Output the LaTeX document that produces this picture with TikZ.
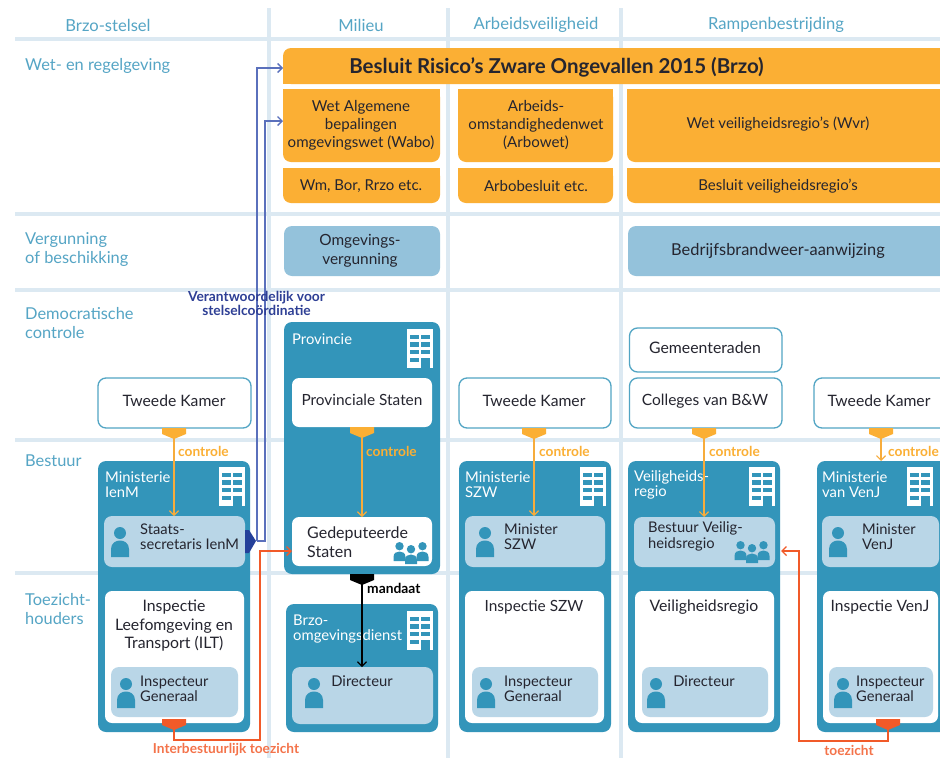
\documentclass[tikz,border=0pt]{standalone}
\usepackage{fontspec}
\setmainfont{Lato}
\usetikzlibrary{arrows.meta}
\definecolor{gridc}{HTML}{DCE9F2}
\definecolor{hdrc}{HTML}{55A5C5}
\definecolor{orc}{HTML}{FBAF34}
\definecolor{orl}{HTML}{F7AC3C}
\definecolor{tealc}{HTML}{3395BA}
\definecolor{lightc}{HTML}{B9D6E7}
\definecolor{permc}{HTML}{94C2DB}
\definecolor{txtc}{HTML}{25252F}
\definecolor{bluet}{HTML}{24409A}
\definecolor{bluel}{HTML}{5A70BC}
\definecolor{bluetxt}{HTML}{2E3F95}
\definecolor{redc}{HTML}{F15A29}
\definecolor{redt}{HTML}{F4734A}
\newcommand\sz[2]{\fontsize{#1}{#2}\selectfont}
% box by corners: style, name, x1, y1, x2, y2
\newcommand\bx[6]{\pgfmathsetmacro\bw{#5-#3}\pgfmathsetmacro\bh{#6-#4}%
  \node[#1,anchor=north west,inner sep=0pt,outer sep=0pt,minimum width=\bw pt,minimum height=\bh pt] (#2) at (#3,#4) {};}
\newcommand\building[2]{\begin{scope}[shift={(#1,#2)}]
  \fill[white] (0,0) rectangle (26,39);
  \foreach \yy/\yz in {5.7/10,13/17.7,21/25.3}{
    \fill[tealc] (3.3,\yy) rectangle (12,\yz);
    \fill[tealc] (14.3,\yy) rectangle (23,\yz);}
  \fill[tealc] (3.3,28.7) rectangle (12,33);
  \fill[tealc] (14.3,28.7) rectangle (23,39);
\end{scope}}
\newcommand\person[2]{\begin{scope}[shift={(#1,#2)}]
  \fill[tealc] (0,6) circle[radius=6];
  \fill[tealc] (-9,30) -- (-9,22) .. controls (-9,16) and (-4,13.5) .. (0,13.5) .. controls (4,13.5) and (9,16) .. (9,22) -- (9,30) -- cycle;
\end{scope}}
\newcommand\smallp[2]{\begin{scope}[shift={(#1,#2)}]
  \fill[tealc] (0,4.2) circle[radius=4.2];
  \fill[tealc] (-6,19) -- (-6,15) .. controls (-6,11) and (-3,9.5) .. (0,9.5) .. controls (3,9.5) and (6,11) .. (6,15) -- (6,19) -- cycle;
\end{scope}}
\newcommand\grp[2]{\smallp{#1-11.5}{#2}\smallp{#1+11.5}{#2}\smallp{#1}{#2+3}}
\newcommand\tabm[4]{\fill[#3] (#1-12,#2) -- (#1+12,#2) -- (#1+12,#2+6) -- (#1,#2+11) -- (#1-12,#2+6) -- cycle;
  \coordinate (#4) at (#1,#2+10);}
\tikzset{
  gridl/.style={gridc,line width=4pt},
  hdr/.style={hdrc,font=\sz{16.6}{17},inner sep=0pt},
  rowl/.style={hdrc,font=\sz{16.4}{19.5},inner sep=0pt,anchor=west,align=left},
  orbox/.style={fill=orc,rounded corners=8pt},
  permit/.style={fill=permc,rounded corners=8pt},
  outl/.style={draw=tealc!85!white,line width=1.3pt,fill=white,rounded corners=8pt},
  cont/.style={fill=tealc,rounded corners=8pt},
  wbox/.style={fill=white,rounded corners=7pt},
  lbox/.style={fill=lightc,rounded corners=8pt},
  ct/.style={txtc,font=\sz{15.4}{18.5},inner sep=0pt,align=center},
  ls/.style={txtc,font=\sz{14.7}{15.2},inner sep=0pt,align=left,anchor=west},
  wl/.style={white,font=\sz{14.8}{15.2},inner sep=0pt,align=left,anchor=west},
  ctl/.style={orl,line width=1.2pt,-{Straight Barb[length=4.5pt,width=9pt]}},
  ctlt/.style={orc,font=\bfseries\sz{13.7}{14},inner sep=0pt,anchor=west},
  bl/.style={bluel,line width=1.4pt,-{Straight Barb[length=4.5pt,width=9pt]}},
  rl/.style={redc,line width=1.4pt,-{Straight Barb[length=4.5pt,width=9pt]}},
  rt/.style={redt,font=\bfseries\sz{13.7}{14},inner sep=0pt},
}
\begin{document}
\begin{tikzpicture}[x=1pt,y=-1pt]
\useasboundingbox (0,0) rectangle (940,758);
\clip (0,0) rectangle (940,758);
\fill[white] (0,0) rectangle (940,758);
% grid
\foreach \yy in {39,214,290,440,573} \draw[gridl] (15,\yy) -- (940,\yy);
\foreach \xx/\yt in {269/8,448/8,621/8} \draw[gridl] (\xx,\yt) -- (\xx,758);
% headers
\node[hdr] (h1) at (108,25) {Brzo-stelsel};
\node[hdr] (h2) at (361,25) {Milieu};
\node[hdr] (h3) at (536,25) {Arbeidsveiligheid};
\node[hdr] (h4) at (776,25) {Rampenbestrijding};
\node[rowl] (r1) at (25,65.5) {Wet- en regelgeving};
\node[rowl] (r2) at (25,249.5) {Vergunning\\of beschikking};
\node[rowl] (r3) at (25,323) {Democratische\\controle};
\node[rowl] (r4) at (25,461) {Bestuur};
\node[rowl] (r5) at (25,609) {Toezicht-\\houders};
% orange boxes
\bx{orbox}{brzo}{283}{48}{960}{84}
\fill[orc] (283,66) rectangle (300,84);
\node[txtc,font=\bfseries\sz{20.5}{21},inner sep=0pt] (brzot) at (556.5,67) {Besluit Risico’s Zware Ongevallen 2015 (Brzo)};
\bx{orbox}{wabo}{283}{89}{440}{162}
\fill[orc] (283,89) rectangle (440,110);
\bx{orbox}{wm}{283}{168}{440}{203}
\fill[orc] (283,168) rectangle (440,185);
\bx{orbox}{arbo}{458}{89}{613}{162}
\fill[orc] (458,89) rectangle (613,110);
\bx{orbox}{arbob}{458}{168}{613}{203}
\fill[orc] (458,168) rectangle (613,185);
\bx{orbox}{wvr}{627}{89}{960}{162}
\fill[orc] (627,89) rectangle (940,110);
\bx{orbox}{bvr}{627}{168}{960}{203}
\fill[orc] (627,168) rectangle (940,185);
\node[ct,font=\sz{15.1}{18}] (waboT) at (361,125) {Wet Algemene\\bepalingen\\omgevingswet (Wabo)};
\node[ct,font=\sz{15}{18}] (wmT) at (361,186.5) {Wm, Bor, Rrzo etc.};
\node[ct,font=\sz{15.1}{18}] (arboT) at (536,125) {Arbeids-\\omstandighedenwet\\(Arbowet)};
\node[ct,font=\sz{15}{18}] (arbobT) at (536,186.5) {Arbobesluit etc.};
\node[ct,font=\sz{15}{18}] (wvrT) at (778,124.5) {Wet veiligheidsregio’s (Wvr)};
\node[ct,font=\sz{15}{18}] (bvrT) at (778,186.5) {Besluit veiligheidsregio’s};
% permits
\bx{permit}{omg}{284}{226}{440}{276}
\bx{permit}{bbw}{628}{226}{960}{276}
\node[ct] (omgT) at (360,251) {Omgevings-\\vergunning};
\node[ct,font=\sz{16.4}{18}] (bbwT) at (778,251) {Bedrijfsbrandweer-aanwijzing};
% outlined
\bx{outl}{tk1}{98}{378}{251}{428}
\bx{outl}{tk2}{459}{378}{611}{428}
\bx{outl}{gem}{629.5}{328}{782}{372}
\bx{outl}{col}{629.5}{378}{782}{428}
\bx{outl}{tk3}{814}{378}{960}{428}
\node[ct,font=\sz{15.7}{18}] (tk1T) at (174,401) {Tweede Kamer};
\node[ct,font=\sz{15.7}{18}] (tk2T) at (534,401) {Tweede Kamer};
\node[ct,font=\sz{15.8}{18}] (gemT) at (705,348) {Gemeenteraden};
\node[ct,font=\sz{15.5}{18}] (colT) at (705,401) {Colleges van B\&W};
\node[ct,font=\sz{15.7}{18}] (tk3T) at (879,401) {Tweede Kamer};
% containers
\bx{cont}{ienm}{98}{461}{250}{732}
\bx{cont}{prov}{284}{322}{440}{574}
\bx{cont}{odienst}{286}{604}{438}{732}
\bx{cont}{szw}{459}{461}{611}{732}
\bx{cont}{veil}{628}{461}{780}{732}
\bx{cont}{venj}{817}{461}{980}{732}
\node[wl] (ienmT) at (105,484.5) {Ministerie\\IenM};
\node[wl] (provT) at (292,339) {Provincie};
\node[wl] (odT) at (293,629) {Brzo-\\omgevingsdienst};
\node[wl] (szwT) at (465,484.5) {Ministerie\\SZW};
\node[wl] (veilT) at (634,484.5) {Veiligheids-\\regio};
\node[wl] (venjT) at (822,484.5) {Ministerie\\van VenJ};
\building{219}{467}\building{407}{329}\building{407}{611}\building{580}{467}\building{749}{467}\building{907}{467}
% inner boxes
\bx{lbox}{staats}{104}{516}{245}{567}
\bx{wbox}{ilt}{105}{591}{244}{723}
\bx{lbox}{ig1}{111}{667}{238}{717}
\bx{wbox}{ps}{292}{378}{432}{427}
\bx{wbox}{gede}{292}{517}{432}{566}
\bx{lbox}{dir1}{292}{667}{433}{724}
\bx{lbox}{minszw}{465}{516}{605}{567}
\bx{wbox}{iszw}{465}{591}{604}{723}
\bx{lbox}{ig2}{472}{667}{598}{717}
\bx{lbox}{bestuur}{634}{517}{775}{567}
\bx{wbox}{vr}{635}{591}{774}{723}
\bx{lbox}{dir2}{642}{667}{768}{717}
\bx{lbox}{minvenj}{822}{516}{939}{567}
\bx{wbox}{ivenj}{823}{591}{938}{723}
\bx{lbox}{ig3}{829}{667}{933}{717}
% icons
\person{120}{527}\person{126}{678}\person{314}{678}\person{485}{527}\person{486}{678}
\person{656}{678}\person{838}{527}\person{843}{678}
\grp{411}{542}\grp{752}{541}
% inner text
\node[ls] (staatsT) at (140,536.5) {Staats-\\secretaris IenM};
\node[ct,font=\sz{15.8}{18.5}] (iltT) at (174,626) {Inspectie\\Leefomgeving en\\Transport (ILT)};
\node[ls] (ig1T) at (140,688.5) {Inspecteur\\Generaal};
\node[ct] (psT) at (362,400) {Provinciale Staten};
\node[txtc,font=\sz{16}{18.5},inner sep=0pt,align=left,anchor=west] (gedeT) at (307,542) {Gedeputeerde\\Staten};
\node[ct,font=\sz{14.8}{15}] (dir1T) at (362,681) {Directeur};
\node[ls] (mszwT) at (504,536.5) {Minister\\SZW};
\node[ct] (iszwT) at (534,607) {Inspectie SZW};
\node[ls] (ig2T) at (504,688.5) {Inspecteur\\Generaal};
\node[ls] (bestT) at (648,536.5) {Bestuur Veilig-\\heidsregio};
\node[ct,font=\sz{15.8}{18}] (vrT) at (704,607) {Veiligheidsregio};
\node[ct,font=\sz{14.8}{15}] (dir2T) at (704,681) {Directeur};
\node[ls] (mvenjT) at (862,536.5) {Minister\\VenJ};
\node[ct,font=\sz{15.6}{18}] (ivenjT) at (880,607) {Inspectie VenJ};
\node[ls] (ig3T) at (856,688.5) {Inspecteur\\Generaal};
% controle connectors
\tabm{174}{428}{orc}{c1}
\tabm{362}{427}{orc}{c2}
\tabm{534}{428}{orc}{c3}
\tabm{704}{428}{orc}{c4}
\tabm{881}{428}{orc}{c5}
\draw[ctl] (c1) -- (c1 |- staats.north);
\draw[ctl] (c2) -- (c2 |- gede.north);
\draw[ctl] (c3) -- (c3 |- minszw.north);
\draw[ctl] (c4) -- (c4 |- bestuur.north);
\draw[ctl] (c5) -- (c5 |- venj.north);
\node[ctlt] (cl1) at (178,451) {controle};
\node[ctlt] (cl2) at (366,451) {controle};
\node[ctlt] (cl3) at (539,451) {controle};
\node[ctlt] (cl4) at (709,451) {controle};
\node[ctlt] (cl5) at (888,451) {controle};
% blue connectors
\coordinate (bj1) at (257,541);
\coordinate (bj2) at (265,541);
\draw[bl] (bj1) |- ([yshift=-2pt]brzo.west);
\draw[bl] (bj1) -- (bj2) |- ([yshift=4.5pt]wabo.west);
\fill[bluet] (245,530) -- (249,530) -- (256,541) -- (249,553) -- (245,553) -- cycle;
\node[bluetxt,font=\bfseries\sz{13.8}{11.5},inner sep=0pt,align=center] (vtxt) at (256.5,303.5) {Verantwoordelijk voor\\stelselcoördinatie};
% mandaat
\tabm{362}{574}{black}{m1}
\draw[black,line width=1.1pt,-{Straight Barb[length=4.5pt,width=9pt]}] (m1) -- (m1 |- dir1.north);
\node[black,font=\bfseries\sz{13.8}{14},inner sep=0pt,anchor=west] (mand) at (367,588) {mandaat};
% red connectors
\tabm{174}{719}{redc}{t1}
\coordinate (tj1) at (260,740);
\draw[rl] (t1) |- (tj1) |- ([yshift=-9.5pt]gede.west);
\node[rt] (tt1) at (226,750) {Interbestuurlijk toezicht};
\tabm{888}{719}{redc}{t2}
\coordinate (tj2) at (799,741);
\coordinate (tend) at (781,551);
\draw[rl] (t2) |- (tj2) |- (tend);
\node[rt] (tt2) at (849,750) {toezicht};
\end{tikzpicture}
\end{document}
